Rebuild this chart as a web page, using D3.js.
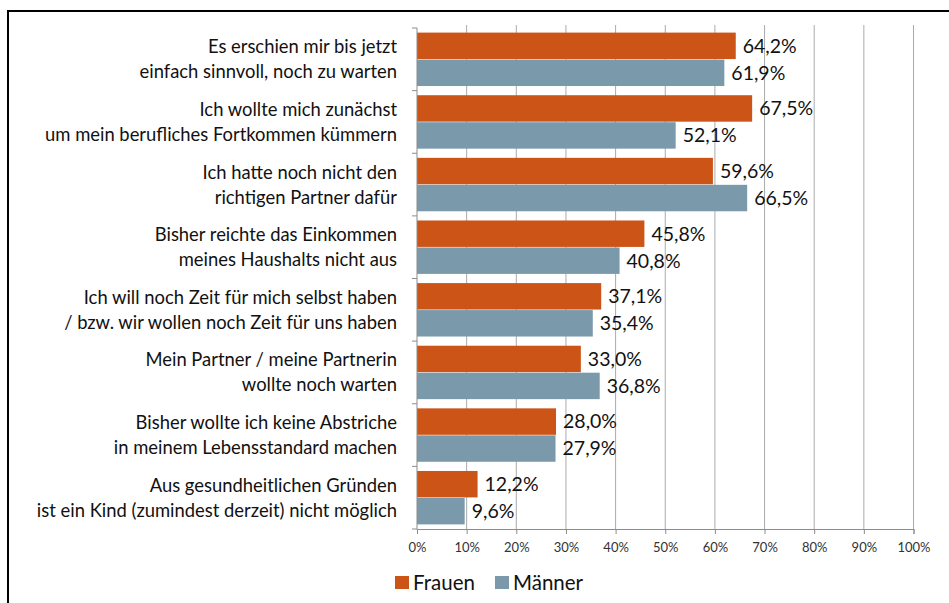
<html>
<head>
<script src="https://d3js.org/d3.v7.min.js"></script>
<style>
  body { margin: 0; background: #fff; }
  .grid line { stroke: #ababab; stroke-width: 1px; }
  .axis path, .axis line { stroke: #8c8c8c; }
  .axis text { font-family: Lato, "Open Sans", sans-serif; font-size: 13px; fill: #333; }
  .cat { font-family: Lato, "Open Sans", sans-serif; font-size: 18.4px; fill: #111; }
  .val { font-family: Lato, "Open Sans", sans-serif; font-size: 19.5px; fill: #111; }
  .legend text { font-family: Lato, "Open Sans", sans-serif; font-size: 20.5px; fill: #111; }
</style>
</head>
<body>
<svg id="chart" width="949" height="603"></svg>
<script>
const categories = [
  ["Es erschien mir bis jetzt", "einfach sinnvoll, noch zu warten"],
  ["Ich wollte mich zunächst", "um mein berufliches Fortkommen kümmern"],
  ["Ich hatte noch nicht den", "richtigen Partner dafür"],
  ["Bisher reichte das Einkommen", "meines Haushalts nicht aus"],
  ["Ich will noch Zeit für mich selbst haben", "/ bzw. wir wollen noch Zeit für uns haben"],
  ["Mein Partner / meine Partnerin", "wollte noch warten"],
  ["Bisher wollte ich keine Abstriche", "in meinem Lebensstandard machen"],
  ["Aus gesundheitlichen Gründen", "ist ein Kind (zumindest derzeit) nicht möglich"]
];
const frauen = [64.2, 67.5, 59.6, 45.8, 37.1, 33.0, 28.0, 12.2];
const maenner = [61.9, 52.1, 66.5, 40.8, 35.4, 36.8, 27.9, 9.6];
const seriesNames = ["Frauen", "Männer"];
const ticks = [0, 10, 20, 30, 40, 50, 60, 70, 80, 90, 100];

const colors = ["#cc5416", "#7a9aab"];
const svg = d3.select("#chart");

// frame (open to the right and bottom)
svg.append("path")
   .attr("d", "M8,603 L8,11 L949,11")
   .attr("fill", "none")
   .attr("stroke", "#000")
   .attr("stroke-width", 2);

const x = d3.scaleLinear().domain([0, 100]).range([417, 913.5]);
const y = d3.scaleBand().domain(d3.range(categories.length)).range([28, 529]);
const inner = d3.scaleBand().domain([0, 1]).range([4.6, y.bandwidth() - 4.6]).paddingInner(0.02);

// gridlines
svg.append("g").attr("class", "grid")
   .selectAll("line").data(ticks.slice(1)).enter()
   .append("line")
   .attr("x1", d => x(d)).attr("x2", d => x(d))
   .attr("y1", 25).attr("y2", 529);

// bars
const rows = categories.map((c, i) => ({i: i, vals: [frauen[i], maenner[i]]}));
const grp = svg.selectAll(".row").data(rows).enter()
   .append("g").attr("transform", d => "translate(0," + y(d.i) + ")");

grp.selectAll("rect").data(d => d.vals).enter()
   .append("rect")
   .attr("x", x(0))
   .attr("y", (d, j) => inner(j))
   .attr("width", d => x(d) - x(0))
   .attr("height", inner.bandwidth())
   .attr("fill", (d, j) => colors[j]);

grp.selectAll(".val").data(d => d.vals).enter()
   .append("text")
   .attr("class", "val")
   .attr("x", d => x(d) + 7)
   .attr("y", (d, j) => inner(j) + inner.bandwidth() / 2)
   .attr("dy", "0.35em")
   .text(d => d.toFixed(1).replace(".", ",") + "%");

// category labels
const labels = svg.selectAll(".cat").data(categories).enter()
   .append("text")
   .attr("class", "cat")
   .attr("text-anchor", "end")
   .attr("x", 397)
   .attr("y", (d, i) => y(i) + y.bandwidth() / 2);
labels.selectAll("tspan").data(d => d).enter()
   .append("tspan")
   .attr("x", 397)
   .attr("dy", (d, k) => k === 0 ? "-6" : "25")
   .text(d => d);

// y axis line with band ticks
const yAxis = svg.append("g").attr("class", "axis");
yAxis.append("line").attr("x1", x(0)).attr("x2", x(0)).attr("y1", 28).attr("y2", 529);
yAxis.selectAll(".bt").data(d3.range(categories.length + 1)).enter()
   .append("line")
   .attr("x1", x(0) - 5).attr("x2", x(0))
   .attr("y1", i => 28 + i * y.step()).attr("y2", i => 28 + i * y.step());

// x axis
svg.append("g").attr("class", "axis")
   .attr("transform", "translate(0,529)")
   .call(d3.axisBottom(x).tickValues(ticks).tickSize(5).tickPadding(9).tickFormat(d => d + "%"));

// legend
const legend = svg.append("g").attr("class", "legend").attr("transform", "translate(395,576)");
const lx = [0, 100];
seriesNames.forEach((s, j) => {
  legend.append("rect").attr("x", lx[j]).attr("y", 0).attr("width", 14).attr("height", 13).attr("fill", colors[j]);
  legend.append("text").attr("x", lx[j] + 18).attr("y", 7).attr("dy", "0.35em").text(s);
});
</script>
</body>
</html>
